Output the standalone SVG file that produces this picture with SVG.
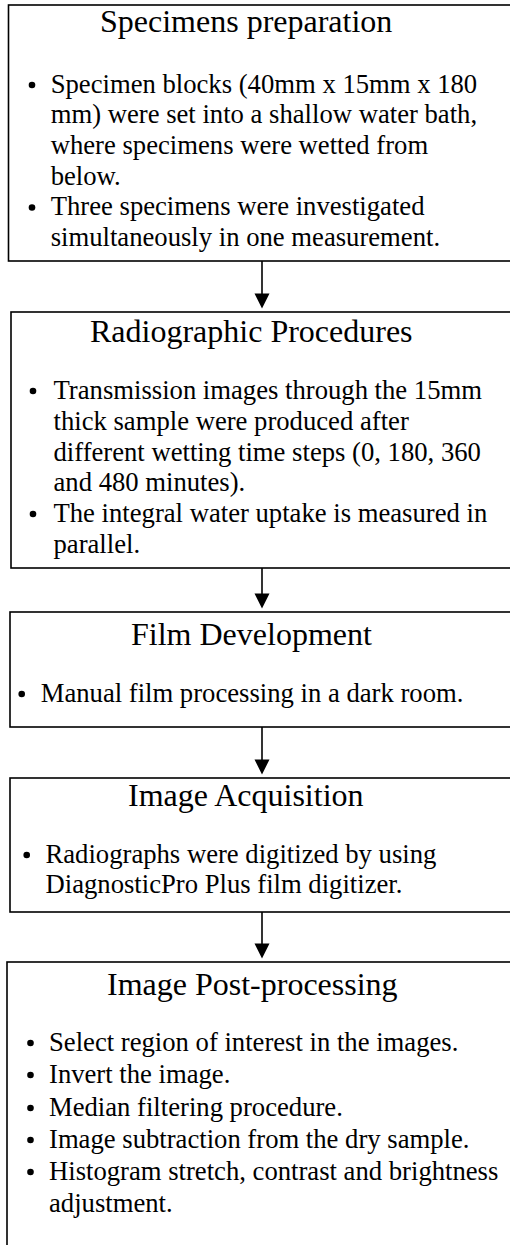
<svg xmlns="http://www.w3.org/2000/svg" width="510" height="1245" viewBox="0 0 510 1245">
<style>
.box{fill:#fff;stroke:#000;stroke-width:1.6}
.title{font-family:"Liberation Serif","Times New Roman",serif;font-size:32px;fill:#000}
.body{font-family:"Liberation Serif","Times New Roman",serif;font-size:26.67px;fill:#000}
.bul{fill:#000}
.conn line{stroke:#000;stroke-width:1.6}
.conn polygon{fill:#000}
</style>
<rect width="510" height="1245" fill="#fff"/>
<g id="node-specimens">
<rect class="box" x="8.5" y="5" width="520" height="256"/>
<text class="title" x="100" y="32">Specimens preparation</text>
<circle class="bul" cx="32" cy="85" r="3.3"/>
<text class="body" x="50.7" y="92.7">Specimen blocks (40mm x 15mm x 180</text>
<text class="body" x="50.7" y="123.4">mm) were set into a shallow water bath,</text>
<text class="body" x="50.7" y="154">where specimens were wetted from</text>
<text class="body" x="50.7" y="184.7">below.</text>
<circle class="bul" cx="32" cy="207.5" r="3.3"/>
<text class="body" x="50.7" y="215.4">Three specimens were investigated</text>
<text class="body" x="50.7" y="246">simultaneously in one measurement.</text>
</g>
<g id="node-radiographic">
<rect class="box" x="11" y="312" width="520" height="256"/>
<text class="title" x="90" y="341.7">Radiographic Procedures</text>
<circle class="bul" cx="33" cy="391" r="3.3"/>
<text class="body" x="53.5" y="399">Transmission images through the 15mm</text>
<text class="body" x="53.5" y="430">thick sample were produced after</text>
<text class="body" x="53.5" y="460.5">different wetting time steps (0, 180, 360</text>
<text class="body" x="53.5" y="491">and 480 minutes).</text>
<circle class="bul" cx="33" cy="514" r="3.3"/>
<text class="body" x="53.5" y="522">The integral water uptake is measured in</text>
<text class="body" x="53.5" y="553">parallel.</text>
</g>
<g id="node-film">
<rect class="box" x="10" y="612" width="520" height="115"/>
<text class="title" x="131" y="645">Film Development</text>
<circle class="bul" cx="21.7" cy="694" r="3.3"/>
<text class="body" x="40.7" y="701.7">Manual film processing in a dark room.</text>
</g>
<g id="node-acquisition">
<rect class="box" x="10" y="778" width="520" height="134"/>
<text class="title" x="128" y="806">Image Acquisition</text>
<circle class="bul" cx="26.7" cy="855" r="3.3"/>
<text class="body" x="45.5" y="863">Radiographs were digitized by using</text>
<text class="body" x="45.5" y="893">DiagnosticPro Plus film digitizer.</text>
</g>
<g id="node-postprocessing">
<rect class="box" x="7" y="962" width="520" height="300"/>
<text class="title" x="107" y="995">Image Post-processing</text>
<circle class="bul" cx="30.5" cy="1043" r="3.3"/>
<text class="body" x="49" y="1051">Select region of interest in the images.</text>
<circle class="bul" cx="30.5" cy="1075" r="3.3"/>
<text class="body" x="49" y="1083">Invert the image.</text>
<circle class="bul" cx="30.5" cy="1108" r="3.3"/>
<text class="body" x="49" y="1116">Median filtering procedure.</text>
<circle class="bul" cx="30.5" cy="1140" r="3.3"/>
<text class="body" x="49" y="1148">Image subtraction from the dry sample.</text>
<circle class="bul" cx="30.5" cy="1172" r="3.3"/>
<text class="body" x="49" y="1180">Histogram stretch, contrast and brightness</text>
<text class="body" x="49" y="1212">adjustment.</text>
</g>
<g id="connectors" class="conn">
<line x1="262" y1="261" x2="262" y2="295"/>
<polygon points="254.5,293.5 269.5,293.5 262,308.5"/>
<line x1="262" y1="568" x2="262" y2="595"/>
<polygon points="254.5,593.5 269.5,593.5 262,608.5"/>
<line x1="262" y1="727" x2="262" y2="761"/>
<polygon points="254.5,759.5 269.5,759.5 262,774.5"/>
<line x1="262" y1="912" x2="262" y2="945"/>
<polygon points="254.5,943.5 269.5,943.5 262,958.5"/>
</g>
</svg>
